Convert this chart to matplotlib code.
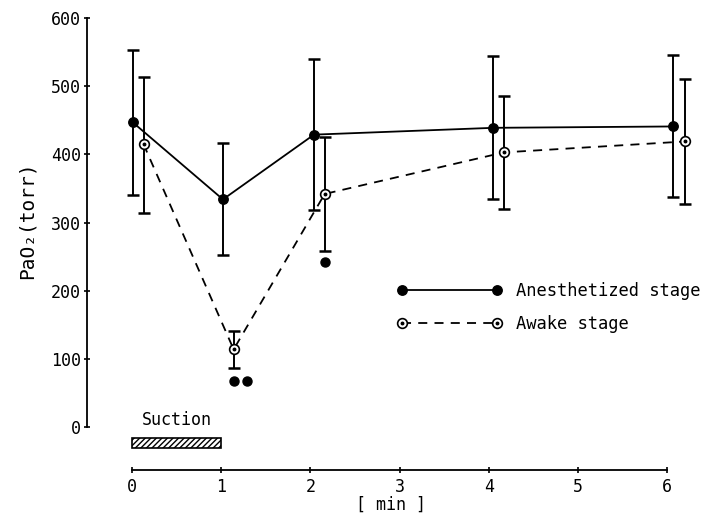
import matplotlib
matplotlib.use("Agg")
import matplotlib.pyplot as plt
from matplotlib.patches import Rectangle
from matplotlib.legend_handler import HandlerTuple

plt.rcParams['font.family'] = ['DejaVu Sans Mono', 'DejaVu Sans']

# anesthetized stage (filled circles)
t_an = [0.01, 1.02, 2.04, 4.05, 6.06]
pao2_an = [447, 334, 429, 439, 441]
err_an_hi = [553, 417, 540, 545, 546]
err_an_lo = [341, 252, 319, 334, 337]

# awake stage (open circles)
t_aw = [0.13, 1.14, 2.16, 4.17, 6.2]
pao2_aw = [415, 114, 342, 403, 419]
err_aw_hi = [514, 141, 425, 486, 510]
err_aw_lo = [314, 86, 258, 320, 327]

# significance dots
sig_t = [1.14, 1.29, 2.16]
sig_v = [68, 68, 242]

suction_start = 0
suction_end = 1

fig = plt.figure(figsize=(7.04, 5.16), dpi=100)
ax = fig.add_axes([0.124, 0.089, 0.862, 0.876])

yerr_an = [[v - lo for v, lo in zip(pao2_an, err_an_lo)],
           [hi - v for v, hi in zip(pao2_an, err_an_hi)]]
yerr_aw = [[v - lo for v, lo in zip(pao2_aw, err_aw_lo)],
           [hi - v for v, hi in zip(pao2_aw, err_aw_hi)]]

ax.errorbar(t_an, pao2_an, yerr=yerr_an, fmt='none', ecolor='black',
            elinewidth=1.4, capsize=4, capthick=1.8)
ax.errorbar(t_aw, pao2_aw, yerr=yerr_aw, fmt='none', ecolor='black',
            elinewidth=1.4, capsize=4, capthick=1.8)

an_line, = ax.plot(t_an, pao2_an, '-', color='black', lw=1.3, marker='o',
                   markersize=6.8, markerfacecolor='black')
aw_line, = ax.plot(t_aw, pao2_aw, color='black', lw=1.3, dashes=(5, 4),
                   marker='o', markersize=7, markerfacecolor='white',
                   markeredgewidth=1.2)
aw_dots, = ax.plot(t_aw, pao2_aw, 'o', color='black', markersize=1.8,
                   ls='none')

ax.plot(sig_t, sig_v, 'o', color='black', markersize=6.5, ls='none')

# suction bar
ax.add_patch(Rectangle((suction_start, -30), suction_end - suction_start, 14,
                       facecolor='white', edgecolor='black', hatch='//////',
                       lw=1.2))
ax.text((suction_start + suction_end) / 2, 10, 'Suction', ha='center',
        va='center', fontsize=12)

ax.set_xlim(-0.5, 6.3)
ax.set_ylim(-63, 600)
ax.spines['top'].set_visible(False)
ax.spines['right'].set_visible(False)
ax.spines['left'].set_bounds(0, 600)
ax.spines['bottom'].set_bounds(0, 6)
ax.spines['left'].set_linewidth(1.3)
ax.spines['bottom'].set_linewidth(1.3)

ax.set_xticks(range(0, 7))
ax.set_yticks(range(0, 601, 100))
ax.tick_params(direction='inout', length=5, width=1.2, labelsize=12)
ax.tick_params(axis='x', pad=3)
ax.tick_params(axis='y', pad=2)

ax.set_xlabel('[ min ]', fontsize=12, labelpad=0)
ax.set_ylabel('PaO₂(torr)', fontsize=14)
ax.yaxis.set_label_coords(-0.083, 0.553)

ax.legend([an_line, (aw_line, aw_dots)], ['Anesthetized stage', 'Awake stage'],
          handler_map={tuple: HandlerTuple(ndivide=1)},
          loc='upper left', bbox_to_anchor=(0.484, 0.45), frameon=False,
          numpoints=2, handlelength=6.2, fontsize=12.3, labelspacing=0.9,
          handletextpad=0.8)

fig.savefig('out.png', dpi=100)
